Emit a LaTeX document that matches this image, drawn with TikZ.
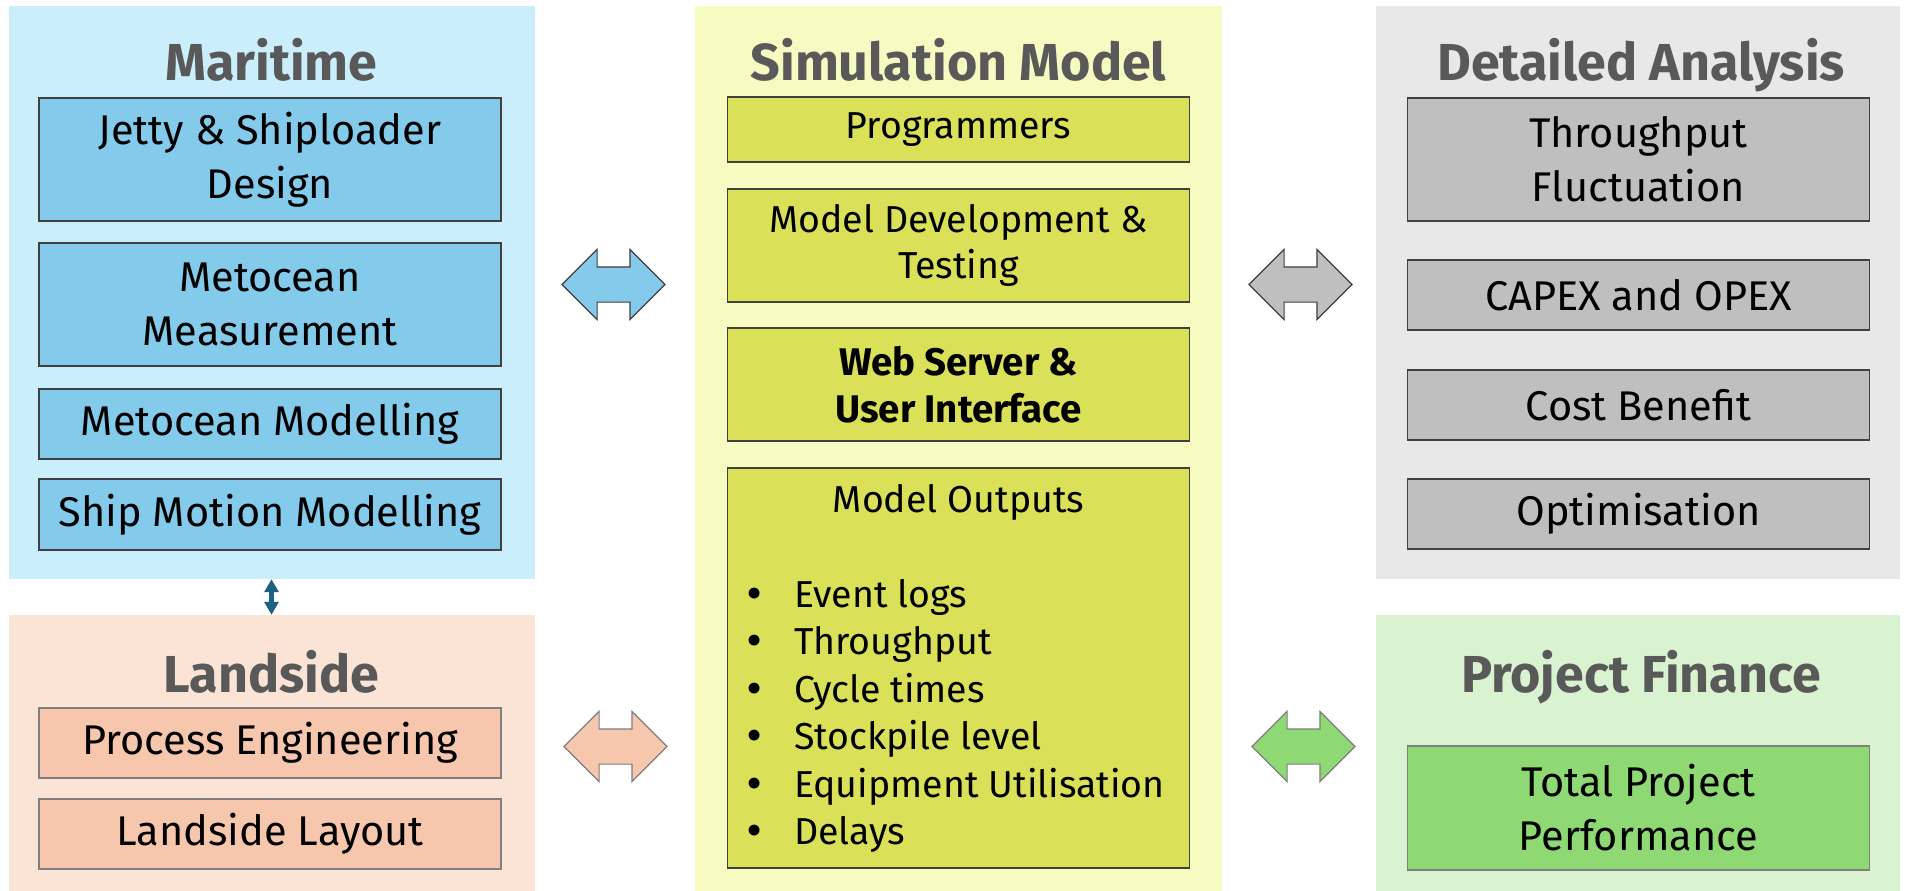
\documentclass[tikz,border=0pt]{standalone}
\usepackage{fontspec}
\setmainfont{Fira Sans}
\newfontfamily\dotfont{DejaVu Sans}
\usepackage{xcolor}
\usetikzlibrary{shapes.arrows,arrows.meta}

\definecolor{marbg}{HTML}{CAEEFB}
\definecolor{marbox}{HTML}{83CAEB}
\definecolor{simbg}{HTML}{F5FBC1}
\definecolor{simfill}{HTML}{DAE159}
\definecolor{detbg}{HTML}{E8E8E8}
\definecolor{detbox}{HTML}{BFBFBF}
\definecolor{landbg}{HTML}{FBE3D6}
\definecolor{landbox}{HTML}{F6C6AD}
\definecolor{finbg}{HTML}{D9F2D0}
\definecolor{finbox}{HTML}{8ED973}
\definecolor{titlegray}{HTML}{595959}
\definecolor{darkline}{HTML}{404040}
\definecolor{lightline}{HTML}{7F7F7F}
\definecolor{linkblue}{HTML}{1C6183}

\begin{document}
\begin{tikzpicture}[x=1pt, y=-1pt,
    panel/.style={inner sep=0pt},
    heading/.style={anchor=base, text=titlegray, font=\fontsize{52}{58}\selectfont\bfseries},
    box/.style={draw=darkline, line width=1.6pt, minimum width=462pt, inner sep=0pt, align=center, font=\fontsize{41.5}{54}\selectfont},
    simbox/.style={box, fill=simfill, font=\fontsize{37.5}{46}\selectfont},
    item/.style={anchor=base west, inner sep=0pt, font=\fontsize{37.5}{44}\selectfont},
    blockarrow/.style={double arrow, double arrow head extend=17.5pt, double arrow tip angle=90, inner xsep=0pt, inner ysep=17pt, minimum height=103pt, line width=1.2pt},
    link/.style={{Triangle[length=13pt,width=14pt]}-{Triangle[length=13pt,width=14pt]}, line width=4.5pt, linkblue},
]
\useasboundingbox (0,0) rectangle (1906,891);

% Panels
\node[panel, fill=marbg, minimum width=526pt, minimum height=573pt] (maritime) at (271.5,292.5) {};
\node[panel, fill=landbg, minimum width=526pt, minimum height=276pt] (landside) at (271.5,753) {};
\node[panel, fill=simbg, minimum width=527pt, minimum height=885pt] (simulation) at (958.5,448.5) {};
\node[panel, fill=detbg, minimum width=524pt, minimum height=573pt] (detailed) at (1638,292.5) {};
\node[panel, fill=finbg, minimum width=524pt, minimum height=276pt] (finance) at (1638,753) {};

% Headings
\node[heading] (marhead) at (271.5,81) {Maritime};
\node[heading] (landhead) at (271.5,692) {Landside};
\node[heading] (simhead) at (958.5,81) {Simulation Model};
\node[heading] (dethead) at (1641,81) {Detailed Analysis};
\node[heading] (finhead) at (1641,692) {Project Finance};

% Maritime boxes
\node[box, fill=marbox, minimum height=123pt] (jetty) at (270,159.5) {Jetty \& Shiploader\\Design};
\node[box, fill=marbox, minimum height=123pt] (metmeas) at (270,304.5) {Metocean\\Measurement};
\node[box, fill=marbox, minimum height=70pt] (metmod) at (270,424) {Metocean Modelling};
\node[box, fill=marbox, minimum height=71pt] (shipmot) at (270,514.5) {Ship Motion Modelling};

% Landside boxes
\node[box, fill=landbox, draw=lightline, minimum height=70pt] (process) at (270,743) {Process Engineering};
\node[box, fill=landbox, draw=lightline, minimum height=70pt] (layout) at (270,834) {Landside Layout};

% Simulation boxes
\node[simbox, minimum height=65pt] (programmers) at (958.5,129.5) {Programmers};
\node[simbox, minimum height=113pt] (develop) at (958.5,245.5) {Model Development \&\\Testing};
\node[simbox, minimum height=113pt, font=\fontsize{38.5}{47}\selectfont\bfseries] (webserver) at (958.5,384.5) {Web Server \&\\User Interface};
\node[simbox, minimum height=400pt] (outputs) at (958.5,668) {};
\node[anchor=base, font=\fontsize{37.5}{44}\selectfont] (outhead) at (958.5,512) {Model Outputs};
\node[item] (events) at (743,607) {\makebox[51pt][l]{\dotfont •}Event logs};
\node[item] (thruput) at (743,654) {\makebox[51pt][l]{\dotfont •}Throughput};
\node[item] (cycle) at (743,702) {\makebox[51pt][l]{\dotfont •}Cycle times};
\node[item] (stock) at (743,749) {\makebox[51pt][l]{\dotfont •}Stockpile level};
\node[item] (equip) at (743,797) {\makebox[51pt][l]{\dotfont •}Equipment Utilisation};
\node[item] (delays) at (743,844) {\makebox[51pt][l]{\dotfont •}Delays};

% Detailed analysis boxes
\node[box, fill=detbox, minimum height=123pt] (fluct) at (1638.5,159.5) {Throughput\\Fluctuation};
\node[box, fill=detbox, minimum height=70pt] (capex) at (1638.5,295) {CAPEX and OPEX};
\node[box, fill=detbox, minimum height=70pt] (cost) at (1638.5,405) {Cost Benefit};
\node[box, fill=detbox, minimum height=70pt] (optim) at (1638.5,514) {Optimisation};

% Project finance box
\node[box, fill=finbox, draw=lightline, minimum height=124pt] (total) at (1638.5,808) {Total Project\\Performance};

% Links between panels
\node[blockarrow, fill=marbox, draw=darkline] (marlink) at (613.5,284.5) {};
\node[blockarrow, fill=detbox, draw=darkline] (detlink) at (1300.5,284.5) {};
\node[blockarrow, fill=landbox, draw=lightline] (landlink) at (615.5,746.5) {};
\node[blockarrow, fill=finbox, draw=lightline] (finlink) at (1303.5,746.5) {};
\draw[link] (maritime.south) -- (landside.north);
\end{tikzpicture}
\end{document}
